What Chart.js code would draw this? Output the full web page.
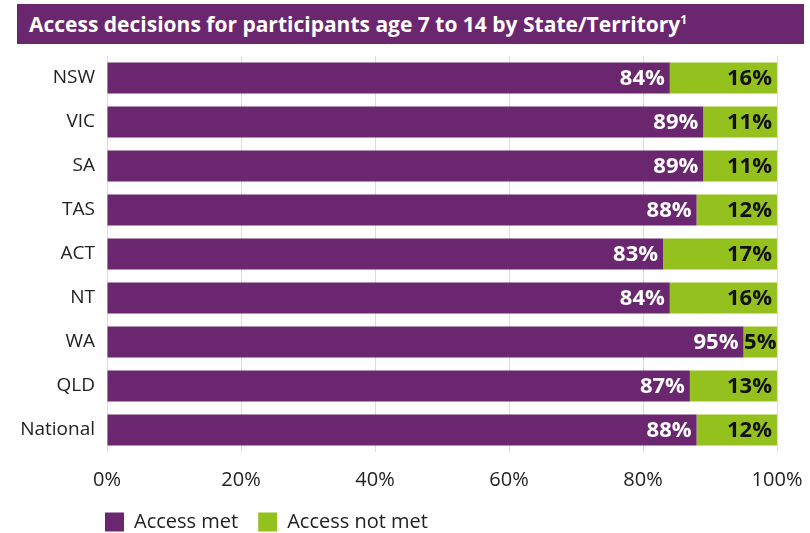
<!DOCTYPE html>
<html>
<head>
<meta charset="utf-8">
<script src="https://cdn.jsdelivr.net/npm/chart.js@4.4.1/dist/chart.umd.min.js"></script>
<style>
  html, body { margin: 0; padding: 0; background: #fff; }
  #wrap { position: relative; width: 810px; height: 533px; }
  #banner {
    position: absolute; left: 17px; top: 4px; width: 787px; height: 40px;
    background: #6b2670; color: #fff;
    font: bold 21px "Open Sans", sans-serif; line-height: 40px;
    padding-left: 12px; box-sizing: border-box; white-space: nowrap;
  }
  #banner sup { font-size: 12px; line-height: 0; }
  canvas { position: absolute; left: 0; top: 0; }
</style>
</head>
<body>
<div id="wrap">
  <canvas id="c" width="810" height="533"></canvas>
  <div id="banner">Access decisions for participants age 7 to 14 by State/Territory<sup>1</sup></div>
</div>
<script>
  // 주(州)별 접근 결정 비율
  const regions = ['NSW', 'VIC', 'SA', 'TAS', 'ACT', 'NT', 'WA', 'QLD', 'National'];
  const accessMet = [84, 89, 89, 88, 83, 84, 95, 87, 88];
  const accessNotMet = [16, 11, 11, 12, 17, 16, 5, 13, 12];
  const xTicks = [0, 20, 40, 60, 80, 100];

  const PURPLE = '#6b2670';
  const GREEN = '#95c11f';
  const FONT = '"Open Sans", sans-serif';

  // 막대 끝 안쪽에 값 표시 (좁은 막대는 가운데 정렬)
  const valueLabels = {
    id: 'valueLabels',
    afterDatasetsDraw(chart) {
      const ctx = chart.ctx;
      ctx.save();
      ctx.font = 'bold 22px ' + FONT;
      ctx.textBaseline = 'middle';
      chart.data.datasets.forEach((ds, di) => {
        const meta = chart.getDatasetMeta(di);
        ctx.fillStyle = di === 0 ? '#fff' : '#111';
        meta.data.forEach((bar, i) => {
          const txt = ds.data[i] + '%';
          const w = ctx.measureText(txt).width;
          const segW = bar.x - bar.base;
          if (w + 10 > segW) {
            ctx.textAlign = 'center';
            ctx.fillText(txt, (bar.x + bar.base) / 2, bar.y + 1);
          } else {
            ctx.textAlign = 'right';
            ctx.fillText(txt, bar.x - 5, bar.y + 1);
          }
        });
      });
      ctx.restore();
    }
  };

  // 범례 위치: 플롯 왼쪽 끝에 맞추고 세로 공간은 줄임
  const legendPlace = {
    id: 'legendPlace',
    afterInit(chart) {
      const lg = chart.legend;
      const fit = lg.fit;
      lg.fit = function () { fit.call(this); this.height = 23; };
    },
    afterLayout(chart) {
      const lg = chart.legend;
      lg.left = 105 - lg.options.labels.padding;
      lg.top = 522 - lg.options.labels.padding - 10;
    }
  };

  new Chart(document.getElementById('c'), {
    type: 'bar',
    data: {
      labels: regions,
      datasets: [
        { label: 'Access met', data: accessMet, backgroundColor: PURPLE },
        { label: 'Access not met', data: accessNotMet, backgroundColor: GREEN },
      ],
    },
    options: {
      indexAxis: 'y',
      responsive: false,
      animation: false,
      layout: { padding: { top: 56, right: 33, left: 0, bottom: 0 } },
      datasets: { bar: { categoryPercentage: 0.7, barPercentage: 1 } },
      scales: {
        x: {
          stacked: true, min: 0, max: 100,
          afterBuildTicks: s => { s.ticks = xTicks.map(v => ({ value: v })); },
          afterFit: s => { s.height = 58; s.paddingRight = 0; s.paddingLeft = 0; },
          ticks: { callback: v => v + '%', color: '#222', font: { family: FONT, size: 20 }, padding: 16 },
          grid: { color: '#dddddd', drawTicks: false },
          border: { display: false },
        },
        y: {
          stacked: true,
          afterFit: s => { s.width = 107; },
          ticks: { color: '#222', font: { family: FONT, size: 19 }, padding: 12 },
          grid: { display: false, drawTicks: false },
          border: { display: false },
        },
      },
      plugins: {
        legend: {
          position: 'bottom', align: 'start',
          labels: { boxWidth: 19, boxHeight: 19, color: '#222', font: { family: FONT, size: 20 }, padding: 20 },
        },
        tooltip: { enabled: false },
      },
    },
    plugins: [valueLabels, legendPlace],
  });
</script>
</body>
</html>
